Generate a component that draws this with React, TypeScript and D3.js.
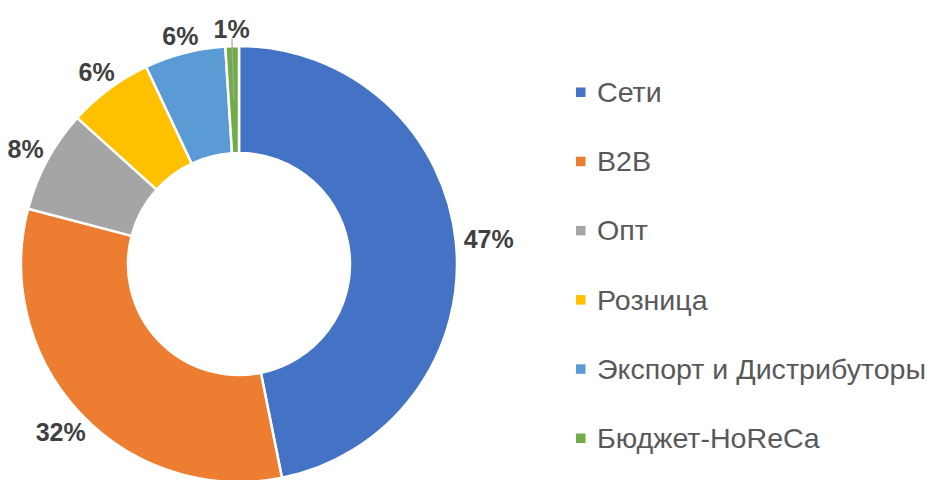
import { useEffect, useRef } from "react";
import * as d3 from "d3";

const categories = ["Сети", "B2B", "Опт", "Розница", "Экспорт и Дистрибуторы", "Бюджет-HoReCa"];
const shares = [46.8, 32.2, 7.6, 6.3, 6.0, 1.0];
const shareLabels = ["47%", "32%", "8%", "6%", "6%", "1%"];
const colors = ["#4472C4", "#ED7D31", "#A5A5A5", "#FFC000", "#5B9BD5", "#70AD47"];

const W = 939;
const H = 480;

export default function App() {
    const svgRef = useRef<SVGSVGElement>(null);

    useEffect(() => {
        if (!svgRef.current) return;
        const svg = d3.select(svgRef.current);
        svg.selectAll("*").remove();

        const cx = 239;
        const cy = 264;
        const outerR = 218;
        const innerR = 111;

        const pie = d3.pie<number>().sort(null).value(d => d);
        const arcs = pie(shares);
        const arc = d3.arc<d3.PieArcDatum<number>>().innerRadius(innerR).outerRadius(outerR);

        const g = svg.append("g").attr("transform", `translate(${cx},${cy})`);

        g.selectAll("path.slice")
            .data(arcs)
            .join("path")
            .attr("class", "slice")
            .attr("d", arc)
            .attr("fill", (_, i) => colors[i])
            .attr("stroke", "#fff")
            .attr("stroke-width", 2.5)
            .attr("stroke-linejoin", "round");

        // Outside-end labels: box centre pushed out along the mid angle
        const labelFont = 25;
        const halfH = 9;
        arcs.forEach((a, i) => {
            const mid = (a.startAngle + a.endAngle) / 2;
            const sx = Math.sin(mid);
            const sy = -Math.cos(mid);
            const txt = g.append("text")
                .attr("font-family", "'Liberation Sans', Arial, sans-serif")
                .attr("font-weight", "bold")
                .attr("font-size", labelFont)
                .attr("fill", "#404040")
                .attr("text-anchor", "middle")
                .attr("dy", "0.36em")
                .text(shareLabels[i]);
            const halfW = (txt.node() as SVGTextElement).getComputedTextLength() / 2;
            const rL = outerR + 8 + Math.hypot(halfW * sx, halfH * sy);
            txt.attr("x", rL * sx).attr("y", rL * sy);

            // leader line for the tiny slice
            if (shares[i] < 2) {
                const r0 = rL - halfH - 1;
                const r1 = (outerR + innerR) / 2;
                g.append("line")
                    .attr("x1", r0 * sx).attr("y1", r0 * sy)
                    .attr("x2", r1 * sx).attr("y2", r1 * sy)
                    .attr("stroke", "#A6A6A6")
                    .attr("stroke-width", 1.2);
            }
        });

        // Legend
        const y = d3.scalePoint<string>()
            .domain(categories)
            .range([92, 438]);

        const legend = svg.append("g").attr("transform", "translate(576,0)");
        const items = legend.selectAll("g.item")
            .data(categories)
            .join("g")
            .attr("class", "item")
            .attr("transform", d => `translate(0,${y(d)})`);

        items.append("rect")
            .attr("x", 0)
            .attr("y", -4.5)
            .attr("width", 9.5)
            .attr("height", 9.5)
            .attr("fill", (_, i) => colors[i]);

        items.append("text")
            .attr("transform", "translate(21,0) scale(1.04,1)")
            .attr("dy", "0.36em")
            .attr("font-family", "'Liberation Sans', Arial, sans-serif")
            .attr("font-size", 27.5)
            .attr("fill", "#595959")
            .text(d => d);
    }, []);

    return (
        <svg
            ref={svgRef}
            width={W}
            height={H}
            style={{ position: "absolute", left: 0, top: 0, background: "#fff" }}
        />
    );
}
